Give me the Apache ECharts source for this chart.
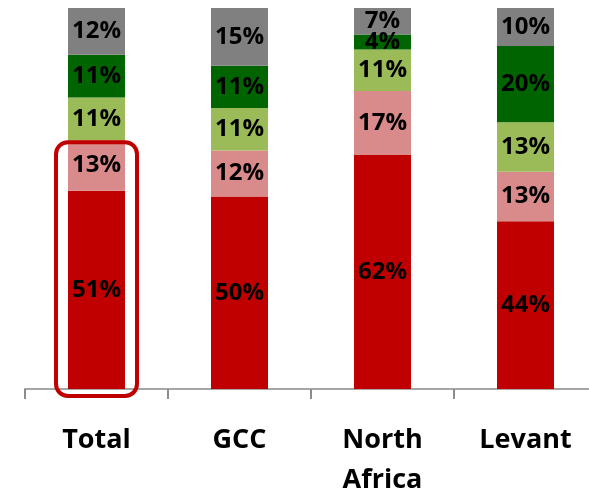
<!DOCTYPE html>
<html>
<head>
<meta charset="utf-8">
<script src="https://cdn.jsdelivr.net/npm/echarts@6/dist/echarts.min.js"></script>
<style>
  html, body { margin: 0; padding: 0; background: #fff; }
  #main { width: 589px; height: 492px; }
</style>
</head>
<body>
<div id="main"></div>
<script>
// categories and the shares (%) shown in each segment, bottom to top
const categories = ['Total', 'GCC', 'North\nAfrica', 'Levant']
const seriesNames = ['s1', 's2', 's3', 's4', 's5']
const redVals = [51, 50, 62, 44]
const pinkVals = [13, 12, 17, 13]
const lightGreenVals = [11, 11, 11, 13]
const darkGreenVals = [11, 11, 4, 20]
const greyVals = [12, 15, 7, 10]
const colors = ['#C00000', '#D98A8A', '#9BBB59', '#006400', '#808080']

const allVals = [redVals, pinkVals, lightGreenVals, darkGreenVals, greyVals]
// column totals, bars are drawn as 100% stacks
const totals = categories.map((c, i) => allVals.reduce((s, arr) => s + arr[i], 0))

const myChart = echarts.init(document.getElementById('main'))

const series = allVals.map((arr, k) => ({
  name: seriesNames[k],
  type: 'bar',
  stack: 'all',
  barWidth: 57,
  itemStyle: { color: colors[k] },
  label: {
    show: true,
    position: 'inside',
    color: '#000',
    fontFamily: 'Open Sans',
    fontWeight: 'bold',
    fontSize: 24,
    formatter: p => arr[p.dataIndex] + '%'
  },
  data: arr.map((v, i) => v / totals[i])
}))

const option = {
  animation: false,
  // right edge sits just past the canvas, the axis runs off the picture
  grid: { left: 25, right: -8, top: 8, bottom: 103, containLabel: false, outerBoundsMode: 'none' },
  xAxis: {
    type: 'category',
    data: categories,
    axisLine: { lineStyle: { color: '#A6A6A6', width: 2 } },
    axisTick: {
      show: true,
      length: 10,
      lineStyle: { color: '#8C8C8C', width: 2 }
    },
    axisLabel: {
      interval: 0,
      margin: 31,
      color: '#000',
      fontFamily: 'Open Sans',
      fontWeight: 'bold',
      fontSize: 27,
      lineHeight: 40,
      verticalAlign: 'top'
    }
  },
  yAxis: {
    type: 'value',
    min: 0,
    max: 1,
    show: false,
    splitLine: { show: false }
  },
  series: series
}

myChart.setOption(option)

// rounded highlight box around the bottom two segments of "Total"
const boxTopVal = (redVals[0] + pinkVals[0]) / totals[0]
const topPt = myChart.convertToPixel({ gridIndex: 0 }, [0, boxTopVal])
const basePt = myChart.convertToPixel({ gridIndex: 0 }, [0, 0])
const boxW = 81
myChart.setOption({
  graphic: [{
    type: 'rect',
    shape: {
      x: topPt[0] - boxW / 2,
      y: topPt[1] + 2,
      width: boxW,
      height: basePt[1] + 7 - (topPt[1] + 2),
      r: 12
    },
    style: { fill: 'none', stroke: '#C00000', lineWidth: 4 },
    z: 100
  }]
})
</script>
</body>
</html>
